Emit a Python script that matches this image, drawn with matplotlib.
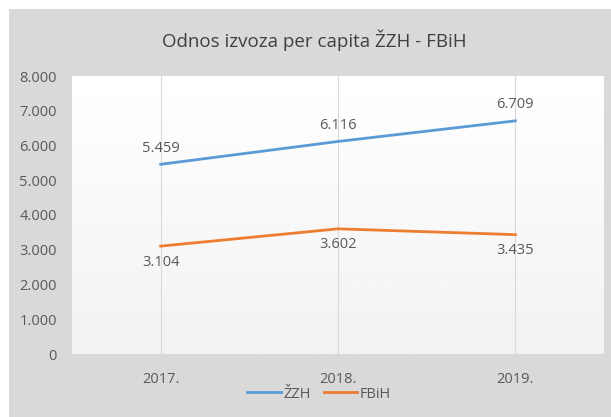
import numpy as np
import matplotlib
matplotlib.use("Agg")
import matplotlib.pyplot as plt
from matplotlib.patches import Rectangle
from matplotlib.ticker import FuncFormatter

plt.rcParams["font.family"] = ["Liberation Sans Narrow", "Open Sans", "DejaVu Sans"]

years = ["2017.", "2018.", "2019."]
zzh = [5459, 6116, 6709]
fbih = [3104, 3602, 3435]

text_color = "#595959"
blue = "#5b9bd5"
orange = "#ed7d31"


def dot_thousands(v, pos=None):
    return f"{v:,.0f}".replace(",", ".")


fig = plt.figure(figsize=(6.11, 4.17), dpi=100)
fig.patches.append(Rectangle((9 / 611, 0), 1, (417 - 9) / 417, transform=fig.transFigure,
                             facecolor="#d9d9d9", edgecolor="none", zorder=-1))

ax = fig.add_axes([72 / 611, 63 / 417, 532 / 611, 278 / 417])
ax.set_facecolor("white")
grad = np.linspace(1.0, 0.949, 256).reshape(-1, 1)
ax.imshow(grad, cmap="gray", vmin=0, vmax=1, aspect="auto", extent=(0, 1, 0, 1),
          transform=ax.transAxes, zorder=0)

x = np.arange(len(years))
for xi in x:
    ax.axvline(xi, color="#d9d9d9", linewidth=0.8, zorder=1)

ax.plot(x, zzh, color=blue, linewidth=2.0, label="ŽZH", zorder=3)
ax.plot(x, fbih, color=orange, linewidth=2.0, label="FBiH", zorder=3)

for xi, v in zip(x, zzh):
    ax.annotate(dot_thousands(v), (xi, v), xytext=(0, 11.5), textcoords="offset points",
                ha="center", va="center", fontsize=10.5, color=text_color)
for xi, v in zip(x, fbih):
    ax.annotate(dot_thousands(v), (xi, v), xytext=(0, -11.5), textcoords="offset points",
                ha="center", va="center", fontsize=10.5, color=text_color)

ax.set_xlim(-0.5, 2.5)
ax.set_ylim(0, 8000)
ax.set_yticks(range(0, 8001, 1000))
ax.yaxis.set_major_formatter(FuncFormatter(dot_thousands))
ax.set_xticks(x)
ax.set_xticklabels(years)
ax.tick_params(axis="y", length=0, pad=11, labelsize=10.5, labelcolor=text_color)
ax.tick_params(axis="x", length=0, pad=13, labelsize=10.5, labelcolor=text_color)
for s in ax.spines.values():
    s.set_visible(False)

fig.text(0.515, 0.904, "Odnos izvoza per capita ŽZH - FBiH", ha="center", va="center",
         fontsize=13.5, color="#404040")

fig.legend(loc="center", bbox_to_anchor=(0.522, 0.055), ncol=2, frameon=False,
           fontsize=10.5, labelcolor=text_color, handlelength=2.3, handletextpad=0.15,
           columnspacing=0.9)

fig.savefig("out.png", dpi=100)
